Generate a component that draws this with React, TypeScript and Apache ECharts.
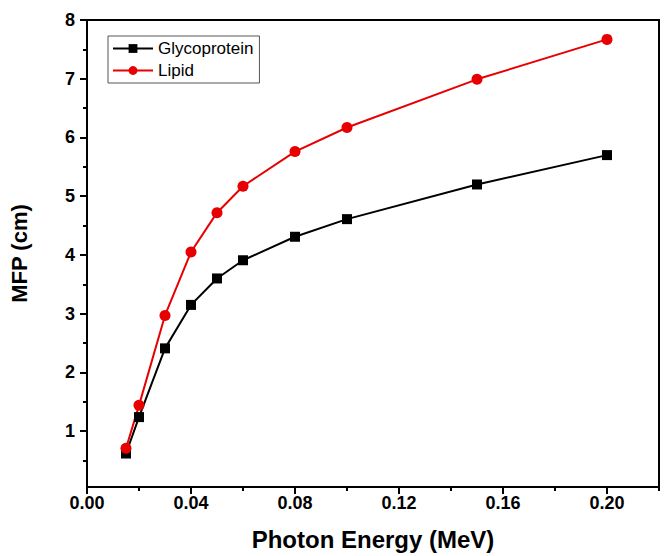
import React, { useEffect, useRef } from "react";
import * as echarts from "echarts";

const energy = [0.015, 0.02, 0.03, 0.04, 0.05, 0.06, 0.08, 0.1, 0.15, 0.2];
const glycoprotein = [0.62, 1.24, 2.41, 3.15, 3.6, 3.91, 4.31, 4.61, 5.2, 5.7];
const lipid = [0.71, 1.44, 2.97, 4.05, 4.72, 5.17, 5.76, 6.17, 6.99, 7.67];

const xMajor = [0, 0.04, 0.08, 0.12, 0.16, 0.2];
const xMinor = [0.02, 0.06, 0.1, 0.14, 0.18, 0.22];
const yMajor = [1, 2, 3, 4, 5, 6, 7, 8];
const yMinor = [0.5, 1.5, 2.5, 3.5, 4.5, 5.5, 6.5, 7.5];

const FONT = "Arial, 'Liberation Sans', sans-serif";

export default function App() {
  const ref = useRef<HTMLDivElement>(null);
  useEffect(() => {
    if (!ref.current) return;
    const chart = echarts.init(ref.current, null, { renderer: "svg" });
    const axisLine = { show: true, lineStyle: { color: "#000", width: 2 } };
    chart.setOption({
      animation: false,
      backgroundColor: "#fff",
      grid: {
        left: 87,
        top: 20,
        right: 11,
        bottom: 68,
        show: true,
        borderColor: "#000",
        borderWidth: 2,
        containLabel: false,
      },
      legend: {
        left: 108,
        top: 36,
        orient: "vertical",
        borderColor: "#555",
        borderWidth: 1,
        padding: [4, 6, 4, 4],
        itemGap: 5,
        itemWidth: 40,
        itemHeight: 11,
        textStyle: { fontFamily: FONT, fontSize: 17, color: "#000" },
        data: ["Glycoprotein", "Lipid"],
      },
      xAxis: [
        {
          type: "value",
          min: 0,
          max: 0.22,
          position: "bottom",
          axisLine,
          splitLine: { show: false },
          axisTick: {
            show: true,
            customValues: xMajor,
            length: 7,
            inside: false,
            lineStyle: { color: "#000", width: 2 },
          },
          axisLabel: {
            customValues: xMajor,
            formatter: (v: number) => v.toFixed(2),
            fontFamily: FONT,
            fontWeight: "bold",
            fontSize: 18,
            color: "#000",
            margin: 7,
          },
          name: "Photon Energy (MeV)",
          nameLocation: "middle",
          nameGap: 40,
          nameTextStyle: { fontFamily: FONT, fontWeight: "bold", fontSize: 24, color: "#000" },
        },
        {
          type: "value",
          min: 0,
          max: 0.22,
          position: "bottom",
          axisLine: { show: false },
          splitLine: { show: false },
          axisTick: {
            show: true,
            customValues: xMinor,
            length: 4,
            lineStyle: { color: "#000", width: 2 },
          },
          axisLabel: { show: false },
        },
      ],
      yAxis: [
        {
          type: "value",
          min: 0.05,
          max: 8,
          position: "left",
          axisLine,
          splitLine: { show: false },
          axisTick: {
            show: true,
            customValues: yMajor,
            length: 7,
            lineStyle: { color: "#000", width: 2 },
          },
          axisLabel: {
            customValues: yMajor,
            fontFamily: FONT,
            fontWeight: "bold",
            fontSize: 18,
            color: "#000",
            margin: 12,
          },
          name: "MFP (cm)",
          nameLocation: "middle",
          nameGap: 57,
          nameRotate: 90,
          nameTextStyle: { fontFamily: FONT, fontWeight: "bold", fontSize: 22, color: "#000" },
        },
        {
          type: "value",
          min: 0.05,
          max: 8,
          position: "left",
          axisLine: { show: false },
          splitLine: { show: false },
          axisTick: {
            show: true,
            customValues: yMinor,
            length: 4,
            lineStyle: { color: "#000", width: 2 },
          },
          axisLabel: { show: false },
        },
      ],
      series: [
        {
          name: "Glycoprotein",
          type: "line",
          data: energy.map((x, i) => [x, glycoprotein[i]]),
          symbol: "rect",
          symbolSize: 10,
          itemStyle: { color: "#000" },
          lineStyle: { color: "#000", width: 2 },
        },
        {
          name: "Lipid",
          type: "line",
          data: energy.map((x, i) => [x, lipid[i]]),
          symbol: "circle",
          symbolSize: 11,
          itemStyle: { color: "#e80000" },
          lineStyle: { color: "#e80000", width: 2 },
        },
      ],
    });
    return () => chart.dispose();
  }, []);
  return (
    <div
      ref={ref}
      style={{ position: "fixed", left: 0, top: 0, width: 670, height: 556 }}
    />
  );
}
